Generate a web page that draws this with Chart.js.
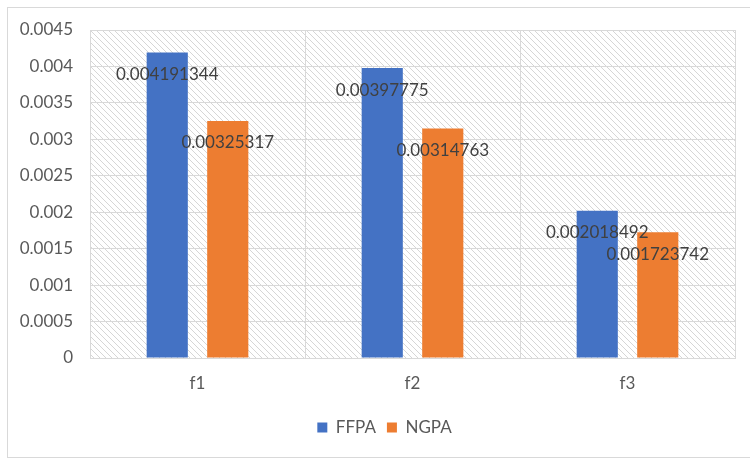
<!DOCTYPE html>
<html>
<head>
<meta charset="utf-8">
<script src="https://cdn.jsdelivr.net/npm/chart.js@4"></script>
<style>
  html, body { margin: 0; padding: 0; background: #ffffff; overflow: hidden; }
  #wrap { position: relative; width: 750px; height: 458px; overflow: hidden; }
  #frame { position: absolute; left: 7px; top: 7px; width: 760px; height: 451px; border: 1px solid #d9d9d9; box-sizing: border-box; }
  canvas { position: absolute; left: 0; top: 0; }
</style>
</head>
<body>
<div id="wrap">
  <div id="frame"></div>
  <canvas id="c" width="750" height="458"></canvas>
</div>
<script>
const categories = ['f1', 'f2', 'f3'];
const ffpaValues = [0.004191344, 0.00397775, 0.002018492];
const ngpaValues = [0.00325317, 0.00314763, 0.001723742];
const ffpaLabels = ['0.004191344', '0.00397775', '0.002018492'];
const ngpaLabels = ['0.00325317', '0.00314763', '0.001723742'];
const yTicks = [0, 0.0005, 0.001, 0.0015, 0.002, 0.0025, 0.003, 0.0035, 0.004, 0.0045];
const yTickLabels = ['0', '0.0005', '0.001', '0.0015', '0.002', '0.0025', '0.003', '0.0035', '0.004', '0.0045'];

const FONT = 'Lato, "Open Sans", sans-serif';

// Pixel diagonal hatch tile for the plot background
function makeHatch(ctx) {
  const n = 6;
  const tile = document.createElement('canvas');
  tile.width = n; tile.height = n;
  const t = tile.getContext('2d');
  t.fillStyle = '#ffffff';
  t.fillRect(0, 0, n, n);
  t.fillStyle = '#d6d6d6';
  for (let i = 0; i < n; i++) t.fillRect(i, i, 1, 1);
  return ctx.createPattern(tile, 'repeat');
}

const hatchBackground = {
  id: 'hatchBackground',
  beforeDraw(chart) {
    const { ctx, chartArea: a } = chart;
    ctx.save();
    ctx.fillStyle = makeHatch(ctx);
    ctx.fillRect(a.left, a.top, a.right - a.left, a.bottom - a.top);
    ctx.restore();
  }
};

// Nudge the legend so it sits a little right of the canvas centre
const legendShift = {
  id: 'legendShift',
  afterLayout(chart) {
    if (chart.legend) {
      chart.legend.left += 17;
      chart.legend.right += 17;
    }
  }
};

// Value labels drawn just inside the top of each bar
const valueLabels = {
  id: 'valueLabels',
  afterDatasetsDraw(chart) {
    const { ctx } = chart;
    const texts = [ffpaLabels, ngpaLabels];
    ctx.save();
    ctx.font = '17px ' + FONT;
    ctx.fillStyle = '#404040';
    ctx.textAlign = 'center';
    ctx.textBaseline = 'middle';
    chart.data.datasets.forEach((ds, di) => {
      chart.getDatasetMeta(di).data.forEach((bar, i) => {
        ctx.fillText(texts[di][i], bar.x, bar.y + 22);
      });
    });
    ctx.restore();
  }
};

new Chart(document.getElementById('c'), {
  type: 'bar',
  data: {
    labels: categories,
    datasets: [
      { label: 'FFPA', data: ffpaValues, backgroundColor: '#4472C4' },
      { label: 'NGPA', data: ngpaValues, backgroundColor: '#ED7D31' }
    ]
  },
  options: {
    responsive: false,
    animation: false,
    devicePixelRatio: 1,
    events: [],
    layout: { padding: { left: 0, right: 15, top: 30, bottom: 12 } },
    datasets: { bar: { categoryPercentage: 0.563, barPercentage: 0.68 } },
    scales: {
      x: {
        grid: { color: '#d9d9d9', lineWidth: 1, offset: true, drawTicks: false },
        border: { color: '#d9d9d9' },
        ticks: { color: '#595959', font: { family: FONT, size: 17 }, padding: 15 },
        afterFit(s) { s.height = 50; }
      },
      y: {
        min: 0, max: 0.0045,
        afterBuildTicks(s) { s.ticks = yTicks.map(v => ({ value: v })); },
        grid: { color: '#d9d9d9', lineWidth: 1, drawTicks: false },
        border: { color: '#d9d9d9' },
        ticks: {
          color: '#595959', font: { family: FONT, size: 17 }, padding: 17,
          callback(v) { const i = yTicks.indexOf(v); return i >= 0 ? yTickLabels[i] : ''; }
        },
        afterFit(s) { s.width = 90; }
      }
    },
    plugins: {
      legend: {
        position: 'bottom',
        labels: {
          color: '#595959', font: { family: FONT, size: 17 },
          boxWidth: 10, boxHeight: 10, padding: 11
        }
      },
      tooltip: { enabled: false }
    }
  },
  plugins: [hatchBackground, legendShift, valueLabels]
});
</script>
</body>
</html>
